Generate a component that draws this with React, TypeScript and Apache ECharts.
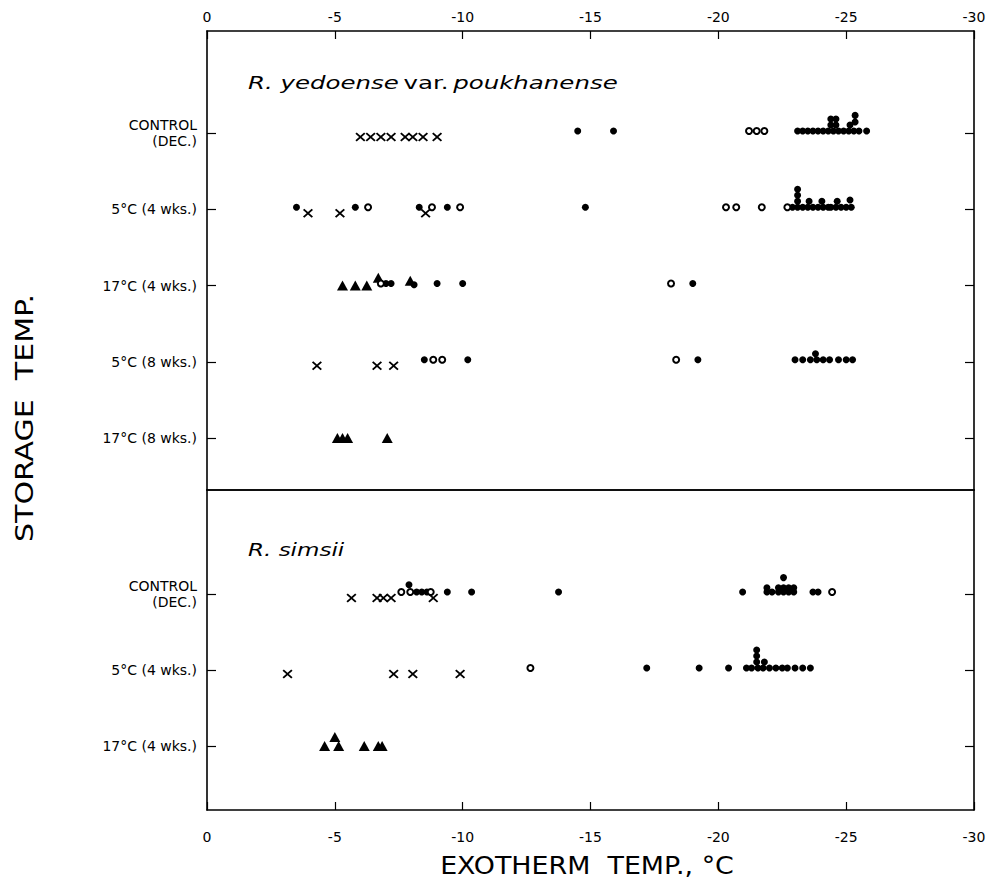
import React, { useEffect, useRef } from "react";
import * as echarts from "echarts";

// ---------- data ----------
// x ticks (°C)
const X_MIN = -30;
const X_MAX = 0;
const X_STEP = 5;

const topRowLabels = ["CONTROL\n(DEC.)", "5°C (4 wks.)", "17°C (4 wks.)", "5°C (8 wks.)", "17°C (8 wks.)"];
const bottomRowLabels = ["CONTROL\n(DEC.)", "5°C (4 wks.)", "17°C (4 wks.)"];

const bottomTitle = "R. simsii";

// each point: [exotherm temp °C, row index, stack level]
const yedFilled: number[][] = [
  // CONTROL
  [-14.5, 0, 0], [-15.9, 0, 0],
  [-23.1, 0, 0], [-23.3, 0, 0], [-23.5, 0, 0], [-23.7, 0, 0], [-23.9, 0, 0], [-24.1, 0, 0],
  [-24.3, 0, 0], [-24.5, 0, 0], [-24.7, 0, 0], [-24.9, 0, 0], [-25.1, 0, 0], [-25.3, 0, 0],
  [-25.5, 0, 0], [-25.8, 0, 0],
  [-24.4, 0, 1], [-24.4, 0, 2], [-24.6, 0, 1], [-24.6, 0, 2], [-25.15, 0, 1], [-25.35, 0, 1.5], [-25.35, 0, 2.6],
  // 5°C (4 wks.)
  [-3.5, 1, 0], [-5.8, 1, 0], [-8.3, 1, 0], [-9.4, 1, 0], [-14.8, 1, 0],
  [-22.9, 1, 0], [-23.1, 1, 0], [-23.3, 1, 0], [-23.5, 1, 0], [-23.7, 1, 0], [-23.9, 1, 0],
  [-24.1, 1, 0], [-24.3, 1, 0], [-24.4, 1, 0], [-24.6, 1, 0], [-24.8, 1, 0], [-25.0, 1, 0], [-25.2, 1, 0],
  [-23.1, 1, 1], [-23.1, 1, 2], [-23.1, 1, 3], [-23.55, 1, 1], [-24.05, 1, 1], [-24.65, 1, 1], [-25.15, 1, 1.2],
  // 17°C (4 wks.)
  [-7.0, 2, 0], [-7.2, 2, 0], [-8.1, 2, -0.2], [-9.0, 2, 0], [-10.0, 2, 0], [-19.0, 2, 0],
  // 5°C (8 wks.)
  [-8.5, 3, 0], [-10.2, 3, 0], [-19.2, 3, 0],
  [-23.0, 3, 0], [-23.3, 3, 0], [-23.6, 3, 0], [-23.85, 3, 0], [-24.1, 3, 0], [-24.35, 3, 0],
  [-24.7, 3, 0], [-25.0, 3, 0], [-25.25, 3, 0], [-23.8, 3, 1],
];
const yedOpen: number[][] = [
  [-21.2, 0, 0], [-21.5, 0, 0], [-21.8, 0, 0],
  [-6.3, 1, 0], [-8.8, 1, 0], [-9.9, 1, 0], [-20.3, 1, 0], [-20.7, 1, 0], [-21.7, 1, 0], [-22.7, 1, 0],
  [-6.8, 2, 0], [-18.15, 2, 0],
  [-8.85, 3, 0], [-9.2, 3, 0], [-18.35, 3, 0],
];
const yedCross: number[][] = [
  [-6.0, 0, 0], [-6.4, 0, 0], [-6.8, 0, 0], [-7.2, 0, 0], [-7.75, 0, 0], [-8.05, 0, 0], [-8.45, 0, 0], [-9.0, 0, 0],
  [-3.95, 1, 0], [-5.2, 1, 0], [-8.55, 1, 0],
  [-4.3, 3, 0], [-6.65, 3, 0], [-7.3, 3, 0],
];
const yedTri: number[][] = [
  [-5.3, 2, 0], [-5.8, 2, 0], [-6.25, 2, 0], [-6.7, 2, 1.3], [-7.95, 2, 0.8],
  [-5.1, 4, 0], [-5.3, 4, 0], [-5.5, 4, 0], [-7.05, 4, 0],
];

const simFilled: number[][] = [
  // CONTROL
  [-7.9, 0, 1.2], [-8.2, 0, 0], [-8.4, 0, 0], [-8.6, 0, 0], [-9.4, 0, 0], [-10.35, 0, 0], [-13.75, 0, 0],
  [-20.95, 0, 0], [-21.9, 0, 0], [-22.1, 0, 0], [-22.35, 0, 0], [-22.55, 0, 0], [-22.75, 0, 0], [-22.95, 0, 0],
  [-21.9, 0, 0.7], [-22.35, 0, 0.7], [-22.55, 0, 0.7], [-22.75, 0, 0.7], [-22.95, 0, 0.7], [-22.55, 0, 2.4],
  [-23.7, 0, 0], [-23.9, 0, 0],
  // 5°C (4 wks.)
  [-17.2, 1, 0], [-19.25, 1, 0], [-20.4, 1, 0],
  [-21.1, 1, 0], [-21.3, 1, 0], [-21.55, 1, 0], [-21.75, 1, 0], [-22.0, 1, 0], [-22.25, 1, 0],
  [-22.5, 1, 0], [-22.7, 1, 0], [-23.0, 1, 0], [-23.3, 1, 0], [-23.6, 1, 0],
  [-21.5, 1, 1], [-21.5, 1, 2], [-21.5, 1, 3], [-21.8, 1, 1],
];
const simOpen: number[][] = [
  [-7.6, 0, 0], [-7.95, 0, 0], [-8.75, 0, 0], [-24.45, 0, 0],
  [-12.65, 1, 0],
];
const simCross: number[][] = [
  [-5.65, 0, 0], [-6.65, 0, 0], [-6.9, 0, 0], [-7.2, 0, 0], [-8.85, 0, 0],
  [-3.15, 1, 0], [-7.3, 1, 0], [-8.05, 1, 0], [-9.9, 1, 0],
];
const simTri: number[][] = [
  [-4.6, 2, 0], [-5.0, 2, 1.5], [-5.15, 2, 0], [-6.15, 2, 0], [-6.7, 2, 0], [-6.85, 2, 0],
];

// ---------- layout / style ----------
const LEFT = 207;
const RIGHT_EDGE = 974;
const TOP = 31;
const DIVIDER = 490;
const BOTTOM = 810;
const TOP_FIRST_ROW = 133;
const BOTTOM_FIRST_ROW = 594;
const ROW_PX_TOP = 76.25;
const ROW_PX_BOTTOM = 76;
const LEVEL_PX = 6;

const FONT = "DejaVu Sans";
const INK = "#000";

const CROSS =
  "path://M0,1.3L1.3,0L5,3.7L8.7,0L10,1.3L6.3,5L10,8.7L8.7,10L5,6.3L1.3,10L0,8.7L3.7,5Z";

function toPoints(arr: number[][], rowPx: number) {
  return arr.map((p) => [p[0], p[1] - (p[2] * LEVEL_PX) / rowPx]);
}

function xAxisFor(gridIndex: number, position: string, labels: boolean, margin: number) {
  return {
    type: "value",
    gridIndex,
    position,
    min: X_MIN,
    max: X_MAX,
    interval: X_STEP,
    inverse: true,
    axisLine: { show: true, onZero: false, lineStyle: { color: INK, width: 1.6 } },
    axisTick: { show: labels, inside: true, length: 8, lineStyle: { color: INK, width: 1.2 } },
    axisLabel: {
      show: labels,
      color: INK,
      fontFamily: FONT,
      fontSize: 14,
      margin,
      formatter: (v: number) => (v === 0 ? "0" : String(v)),
    },
    splitLine: { show: false },
  };
}

function yAxisFor(gridIndex: number, position: string, labels: string[], firstRow: number, gridTop: number, gridH: number, rowPx: number, showLabels: boolean) {
  const min = -(firstRow - gridTop) / rowPx;
  const max = min + gridH / rowPx;
  const vals = labels.map((_, i) => i);
  return {
    type: "value",
    gridIndex,
    position,
    inverse: true,
    min,
    max,
    axisLine: { show: true, onZero: false, lineStyle: { color: INK, width: 1.6 } },
    axisTick: { show: true, inside: true, length: 9, customValues: vals, lineStyle: { color: INK, width: 1.2 } },
    axisLabel: {
      show: showLabels,
      customValues: vals,
      color: INK,
      fontFamily: FONT,
      fontSize: 14,
      lineHeight: 16,
      margin: 10,
      align: "right",
      formatter: (v: number) => labels[Math.round(v)] ?? "",
    },
    splitLine: { show: false },
  };
}

function seriesSet(prefix: string, xi: number, yi: number, rowPx: number, filled: number[][], open: number[][], cross: number[][], tri: number[][]) {
  const base = { type: "scatter", xAxisIndex: xi, yAxisIndex: yi, emphasis: { disabled: true } };
  return [
    {
      ...base,
      name: prefix + " cross",
      symbol: CROSS,
      symbolSize: [10, 9],
      symbolOffset: [0, 4],
      itemStyle: { color: INK, opacity: 1 },
      data: toPoints(cross, rowPx),
    },
    {
      ...base,
      name: prefix + " triangle",
      symbol: "triangle",
      symbolSize: [11, 10],
      itemStyle: { color: INK, opacity: 1 },
      data: toPoints(tri, rowPx),
    },
    {
      ...base,
      name: prefix + " filled",
      symbol: "circle",
      symbolSize: 7,
      symbolOffset: [0, -2],
      itemStyle: { color: INK, opacity: 1 },
      data: toPoints(filled, rowPx),
    },
    {
      ...base,
      name: prefix + " open",
      symbol: "emptyCircle",
      symbolSize: 6,
      symbolOffset: [0, -2],
      itemStyle: { color: INK, borderWidth: 2, opacity: 1 },
      data: toPoints(open, rowPx),
    },
  ];
}

export default function App() {
  const ref = useRef<HTMLDivElement>(null);

  useEffect(() => {
    if (!ref.current) return;
    const chart = echarts.init(ref.current, null, { renderer: "svg" });
    const right = 998 - RIGHT_EDGE;
    const topH = DIVIDER - TOP;
    const botH = BOTTOM - DIVIDER;

    const option = {
      animation: false,
      backgroundColor: "#fff",
      grid: [
        { left: LEFT, right, top: TOP, height: topH },
        { left: LEFT, right, top: DIVIDER, height: botH },
      ],
      xAxis: [
        xAxisFor(0, "top", true, 7),
        xAxisFor(0, "bottom", false, 7),
        xAxisFor(1, "top", false, 7),
        xAxisFor(1, "bottom", true, 20),
      ],
      yAxis: [
        yAxisFor(0, "left", topRowLabels, TOP_FIRST_ROW, TOP, topH, ROW_PX_TOP, true),
        yAxisFor(0, "right", topRowLabels, TOP_FIRST_ROW, TOP, topH, ROW_PX_TOP, false),
        yAxisFor(1, "left", bottomRowLabels, BOTTOM_FIRST_ROW, DIVIDER, botH, ROW_PX_BOTTOM, true),
        yAxisFor(1, "right", bottomRowLabels, BOTTOM_FIRST_ROW, DIVIDER, botH, ROW_PX_BOTTOM, false),
      ],
      series: [
        ...seriesSet("yedoense", 0, 0, ROW_PX_TOP, yedFilled, yedOpen, yedCross, yedTri),
        ...seriesSet("simsii", 3, 2, ROW_PX_BOTTOM, simFilled, simOpen, simCross, simTri),
      ],
      graphic: [
        {
          type: "text",
          x: 248,
          y: 83,
          scaleX: 1.36,
          style: {
            text: "{i|R. yedoense} {n|var.} {i|poukhanense}",
            rich: {
              i: { fontFamily: FONT, fontStyle: "italic", fontSize: 18, fill: INK },
              n: { fontFamily: FONT, fontSize: 18, fill: INK },
            },
            fill: INK,
            verticalAlign: "middle",
          },
        },
        {
          type: "text",
          x: 248,
          y: 550,
          scaleX: 1.28,
          style: {
            text: "{i|" + bottomTitle + "}",
            rich: { i: { fontFamily: FONT, fontStyle: "italic", fontSize: 18, fill: INK } },
            fill: INK,
            verticalAlign: "middle",
          },
        },
        {
          type: "text",
          x: 25,
          y: 418,
          rotation: Math.PI / 2,
          scaleX: 1.25,
          style: {
            text: "STORAGE  TEMP.",
            fontFamily: FONT,
            fontSize: 24,
            fill: INK,
            align: "center",
            verticalAlign: "middle",
          },
        },
        {
          type: "text",
          x: 587,
          y: 866,
          scaleX: 1.12,
          style: {
            text: "EXOTHERM  TEMP., °C",
            fontFamily: FONT,
            fontSize: 24,
            fill: INK,
            align: "center",
            verticalAlign: "middle",
          },
        },
      ],
    };
    chart.setOption(option as any);
    return () => chart.dispose();
  }, []);

  return (
    <div
      ref={ref}
      style={{ position: "absolute", left: 0, top: 0, width: 998, height: 884, background: "#fff" }}
    />
  );
}
